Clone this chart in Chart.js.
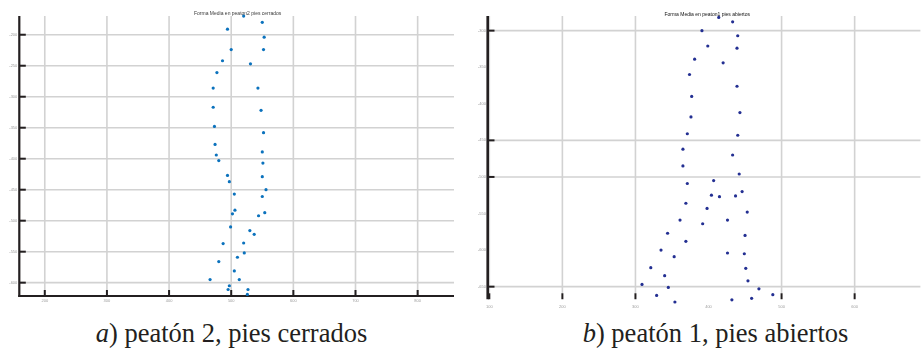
<!DOCTYPE html>
<html>
<head>
<meta charset="utf-8">
<script src="https://cdn.jsdelivr.net/npm/chart.js@4.4.1/dist/chart.umd.min.js"></script>
<style>
  html, body { margin: 0; padding: 0; background: #fff; }
  body { width: 922px; height: 350px; position: relative; overflow: hidden; }
  .panel { position: absolute; top: 0; }
  #wrapA { left: 0; width: 460px; height: 312px; }
  #wrapB { left: 460px; width: 462px; height: 312px; }
  .cap {
    position: absolute; top: 319.5px;
    font-family: "Liberation Serif", "Times New Roman", serif;
    font-size: 26.5px; line-height: 1; color: #231f20;
    white-space: nowrap; transform: translateX(-50%);
  }
  .cap i { font-style: italic; }
</style>
</head>
<body>
<div class="panel" id="wrapA"><canvas id="chartA" width="460" height="312"></canvas></div>
<div class="panel" id="wrapB"><canvas id="chartB" width="462" height="312"></canvas></div>
<div class="cap" style="left:231.5px"><i>a</i>) peatón 2, pies cerrados</div>
<div class="cap" style="left:715.5px"><i>b</i>) peatón 1, pies abiertos</div>

<script>
// Mean shape landmarks, pedestrian 2 with feet together
const closedTitle = 'Forma Media en peaton2 pies cerrados';
const closedX = [520, 550, 494, 553, 500, 552, 486, 531, 477, 471, 543, 471, 548, 473, 552,
                 474, 550, 476, 480, 551, 494, 550, 497, 556, 505, 550, 506, 554, 502, 544,
                 499, 530, 537, 487, 520, 521, 510, 480, 505, 466, 513, 497, 495, 527, 526];
const closedY = [-170, -180, -191, -204, -224, -224, -242, -247, -261, -286, -286, -317, -322, -348, -358,
                 -377, -389, -394, -403, -407, -427, -429, -437, -450, -457, -461, -483, -487, -489, -492,
                 -510, -516, -522, -537, -536, -552, -559, -566, -581, -595, -595, -605, -611, -611, -619];
const closedTicksX = [200, 300, 400, 500, 600, 700, 800];
const closedTicksY = [-600, -550, -500, -450, -400, -350, -300, -250, -200];

// Mean shape landmarks, pedestrian 1 with feet apart
const openTitle = 'Forma Media en peaton1 pies abiertos';
const openX = [414, 433, 391, 440, 399, 439, 381, 420, 374, 439, 377, 443, 376, 371, 440,
               365, 433, 365, 442, 407, 371, 446, 404, 415, 437, 369, 398, 453, 361, 426,
               392, 344, 450, 369, 335, 426, 449, 353, 321, 451, 340, 454, 309, 345, 469,
               329, 488, 459, 354, 432];
const openY = [-282, -288, -300, -307, -321, -324, -339, -344, -360, -376, -390, -412, -418, -441, -443,
               -462, -470, -485, -496, -505, -509, -520, -525, -527, -526, -536, -543, -548, -559, -559,
               -564, -577, -580, -588, -600, -604, -605, -609, -624, -625, -635, -642, -647, -651, -653,
               -662, -661, -666, -671, -668];
const openTicksX = [100, 200, 300, 400, 500, 600];
const openTicksY = [-650, -600, -550, -500, -450, -400, -350, -300];
// the open-feet figure only carries grid lines / tick marks on some ticks
const openGridX = [100, 200, 300, 500, 600];
const openGridY = [-650, -500, -450, -300];

const INK = '#231f20';
const GRID = '#d2d2d2';

// Grid, axis lines, inward tick marks and the small title, all placed via the chart scales
const framePlugin = {
  id: 'frame',
  beforeDatasetsDraw(chart, args, o) {
    const { ctx, chartArea: a, scales: { x, y } } = chart;
    ctx.save();
    const gBottom = o.gridBottom != null ? y.getPixelForValue(o.gridBottom) : a.bottom;

    // grid lines
    ctx.strokeStyle = GRID;
    ctx.lineWidth = 1.6;
    o.gridX.forEach(v => {
      const px = x.getPixelForValue(v);
      ctx.beginPath(); ctx.moveTo(px, a.top); ctx.lineTo(px, gBottom); ctx.stroke();
    });
    o.gridY.forEach(v => {
      const py = y.getPixelForValue(v);
      ctx.beginPath(); ctx.moveTo(a.left, py); ctx.lineTo(a.right, py); ctx.stroke();
    });

    // title
    ctx.fillStyle = o.titleColor;
    ctx.font = '5px "Liberation Sans", Arial, sans-serif';
    ctx.textAlign = 'center';
    ctx.textBaseline = 'middle';
    ctx.fillText(o.title, (a.left + a.right) / 2 + o.titleDx, a.top + o.titleDy);

    // axis lines
    ctx.strokeStyle = INK;
    ctx.lineWidth = o.axisWidth;
    ctx.beginPath(); ctx.moveTo(a.left - o.axisShift, a.top); ctx.lineTo(a.left - o.axisShift, o.drawXAxis ? a.bottom + 1 : gBottom + 6); ctx.stroke();
    if (o.drawXAxis) {
      ctx.lineWidth = 2;
      ctx.beginPath(); ctx.moveTo(a.left - 1, a.bottom); ctx.lineTo(a.right, a.bottom); ctx.stroke();
    }

    // tick marks
    ctx.lineWidth = 2;
    o.gridY.forEach(v => {
      const py = y.getPixelForValue(v);
      ctx.beginPath(); ctx.moveTo(a.left, py); ctx.lineTo(a.left + 6.5, py); ctx.stroke();
    });
    o.gridX.forEach(v => {
      const px = x.getPixelForValue(v);
      ctx.beginPath();
      if (o.drawXAxis) { ctx.moveTo(px, a.bottom - 6); ctx.lineTo(px, a.bottom); }
      else { ctx.moveTo(px, gBottom); ctx.lineTo(px, gBottom + 6); }
      ctx.stroke();
    });
    ctx.restore();
  }
};

function tickSet(values) {
  return scale => { scale.ticks = values.map(v => ({ value: v })); };
}

function axis(min, max, values, fit, padding) {
  return {
    type: 'linear', min, max,
    afterBuildTicks: tickSet(values),
    afterFit: fit,
    grid: { display: false, drawTicks: false },
    border: { display: false },
    ticks: {
      autoSkip: false, maxRotation: 0, padding,
      color: '#9c9c9c',
      font: { size: 4, family: '"Liberation Sans", Arial, sans-serif' },
      callback: v => String(v)
    }
  };
}

function makeChart(id, xs, ys, color, cfg) {
  return new Chart(document.getElementById(id), {
    type: 'scatter',
    data: {
      datasets: [{
        data: xs.map((v, i) => ({ x: v, y: ys[i] })),
        backgroundColor: color,
        borderWidth: 0,
        pointRadius: 1.6,
        pointHoverRadius: 1.6,
        clip: false
      }]
    },
    options: {
      responsive: false,
      animation: false,
      events: [],
      layout: { padding: cfg.padding },
      scales: { x: cfg.x, y: cfg.y },
      plugins: { legend: { display: false }, tooltip: { enabled: false }, frame: cfg.frame }
    },
    plugins: [framePlugin]
  });
}

makeChart('chartA', closedX, closedY, '#0b72bd', {
  padding: { top: 16, right: 6, left: 0, bottom: 0 },
  x: axis(159, 858.5, closedTicksX, s => { s.height = 16; }, 2),
  y: axis(-621.5, -169.8, closedTicksY, s => { s.width = 19.3; }, 2),
  frame: {
    gridX: closedTicksX, gridY: closedTicksY, title: closedTitle,
    titleColor: '#3a3a3a', titleDx: 1, titleDy: -2.7,
    drawXAxis: true, axisWidth: 2.2, axisShift: 0
  }
});

makeChart('chartB', openX, openY, '#232f92', {
  padding: { top: 16, right: 0, left: 0, bottom: 0 },
  x: axis(98.2, 690, openTicksX, s => { s.height = 8; }, 0),
  y: axis(-673.7, -280, openTicksY, s => { s.width = 28; }, 2),
  frame: {
    gridX: openGridX, gridY: openGridY, title: openTitle, gridBottom: -659,
    titleColor: '#111', titleDx: 3, titleDy: -1.3,
    drawXAxis: false, axisWidth: 2.6, axisShift: 0.3
  }
});
</script>
</body>
</html>
